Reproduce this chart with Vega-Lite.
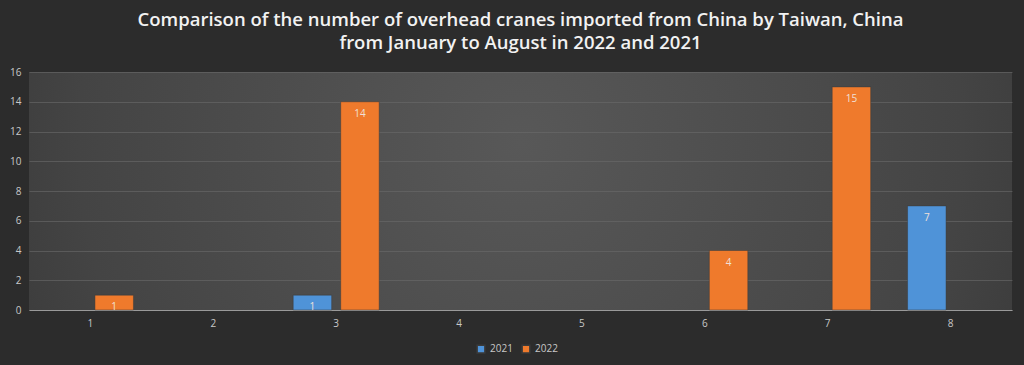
{
  "$schema": "https://vega.github.io/schema/vega-lite/v6.json",
  "width": 1024,
  "height": 365,
  "autosize": {"type": "fit", "contains": "padding"},
  "padding": {"left": 9, "right": 12, "top": 10, "bottom": 37},
  "background": "#2c2c2c",
  "title": {
    "text": ["Comparison of the number of overhead cranes imported from China by Taiwan, China", "from January to August in 2022 and 2021"],
    "color": "#f2f2f2",
    "font": "Open Sans",
    "fontSize": 18.5,
    "fontWeight": 600,
    "lineHeight": 23,
    "offset": 15,
    "anchor": "middle"
  },
  "data": {
    "values": [
      {"month": "1", "year": "2022", "count": 1},
      {"month": "3", "year": "2021", "count": 1},
      {"month": "3", "year": "2022", "count": 14},
      {"month": "6", "year": "2022", "count": 4},
      {"month": "7", "year": "2022", "count": 15},
      {"month": "8", "year": "2021", "count": 7}
    ]
  },
  "encoding": {
    "x": {
      "field": "month",
      "type": "nominal",
      "scale": {"domain": ["1","2","3","4","5","6","7","8"], "paddingInner": 0.3, "paddingOuter": 0.15},
      "axis": {"title": null, "labelAngle": 0, "ticks": false, "domainColor": "#9a9a9a", "labelColor": "#c8c8c8", "labelFontSize": 10, "labelPadding": 8, "labelFont": "Open Sans"}
    },
    "xOffset": {"field": "year", "type": "nominal", "scale": {"domain": ["2021", "2022"], "paddingInner": 0.19}},
    "y": {
      "field": "count",
      "type": "quantitative",
      "scale": {"domain": [0, 16]},
      "axis": {"title": null, "values": [0,2,4,6,8,10,12,14,16], "domain": false, "ticks": false, "gridColor": "#6a6a6a", "gridOpacity": 0.6, "labelColor": "#c8c8c8", "labelFontSize": 10, "labelPadding": 8, "labelFont": "Open Sans"}
    }
  },
  "layer": [
    {
      "mark": {"type": "bar", "stroke": "#3a3a3a", "strokeWidth": 0.5},
      "encoding": {
        "color": {
          "field": "year",
          "type": "nominal",
          "scale": {"domain": ["2021", "2022"], "range": ["#4f93d8", "#ef7a2c"]},
          "legend": {"title": null, "orient": "none", "legendX": 447, "legendY": 272, "direction": "horizontal", "symbolType": "square", "symbolSize": 60, "labelColor": "#c8c8c8", "labelFontSize": 10, "labelFont": "Open Sans", "columnPadding": 6}
        }
      }
    },
    {
      "mark": {"type": "text", "baseline": "top", "dy": 7, "color": "#f0e0d8", "fontSize": 10, "font": "Open Sans"},
      "encoding": {"text": {"field": "count", "type": "quantitative"}}
    }
  ],
  "config": {
    "view": {
      "stroke": null,
      "fill": {
        "gradient": "radial",
        "x1": 0.5, "y1": 0.45, "r1": 0,
        "x2": 0.5, "y2": 0.45, "r2": 0.75,
        "stops": [
          {"offset": 0, "color": "#585858"},
          {"offset": 0.6, "color": "#444444"},
          {"offset": 1, "color": "#2c2c2c"}
        ]
      }
    }
  }
}
